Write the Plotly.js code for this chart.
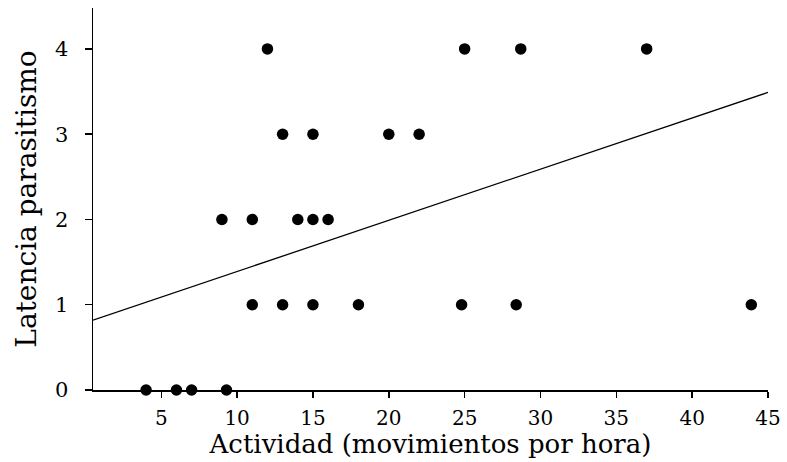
<!DOCTYPE html>
<html>
<head>
<meta charset="utf-8">
<script src="https://cdn.plot.ly/plotly-3.0.1.min.js"></script>
<style>html,body{margin:0;padding:0;background:#fff;}#chart{width:787px;height:462px;}</style>
</head>
<body>
<div id="chart"></div>
<script>
// Data
const actividad = [12, 25, 28.7, 37, 13, 15, 20, 22, 9, 11, 14, 15, 16, 11, 13, 15, 18, 24.8, 28.4, 43.9, 4, 6, 7, 9.3];
const latencia  = [4, 4, 4, 4, 3, 3, 3, 3, 2, 2, 2, 2, 2, 1, 1, 1, 1, 1, 1, 1, 0, 0, 0, 0];
// Fitted regression line (endpoints)
const fitX = [0.5, 45];
const fitY = [0.82, 3.49];
const xTicks = [5, 10, 15, 20, 25, 30, 35, 40, 45];
const yTicks = [0, 1, 2, 3, 4];

const serif = "DejaVu Serif, Liberation Serif, serif";

const traces = [
  {
    x: fitX, y: fitY, type: 'scatter', mode: 'lines',
    line: {color: '#000', width: 1.3}, hoverinfo: 'skip', cliponaxis: false
  },
  {
    x: actividad, y: latencia, type: 'scatter', mode: 'markers',
    marker: {color: '#000', size: 11.5, symbol: 'circle'}, cliponaxis: false
  }
];

const layout = {
  width: 787, height: 462,
  margin: {l: 93, r: 19, t: 8, b: 72},
  paper_bgcolor: '#fff', plot_bgcolor: '#fff',
  showlegend: false,
  font: {family: serif, color: '#000', size: 18},
  xaxis: {
    range: [0.5, 45], tickvals: xTicks, ticktext: xTicks.map(String),
    showgrid: false, zeroline: false, showline: true, linecolor: '#000', linewidth: 1.5,
    ticks: 'outside', ticklen: 6, tickwidth: 1.5, tickcolor: '#000',
    tickfont: {family: serif, size: 20, color: '#000'},
    ticklabelstandoff: 3,
    title: {text: 'Actividad (movimientos por hora)', font: {family: serif, size: 26, color: '#000'}, standoff: 3},
    automargin: false
  },
  yaxis: {
    range: [0, 4.48], tickvals: yTicks, ticktext: yTicks.map(String),
    showgrid: false, zeroline: false, showline: true, linecolor: '#000', linewidth: 1.5,
    ticks: 'outside', ticklen: 7, tickwidth: 1.5, tickcolor: '#000',
    tickfont: {family: serif, size: 21, color: '#000'},
    ticklabelstandoff: 12,
    title: {text: 'Latencia parasitismo', font: {family: serif, size: 28, color: '#000'}, standoff: 10},
    automargin: false
  }
};

Plotly.newPlot('chart', traces, layout, {displayModeBar: false, staticPlot: true});
</script>
</body>
</html>
